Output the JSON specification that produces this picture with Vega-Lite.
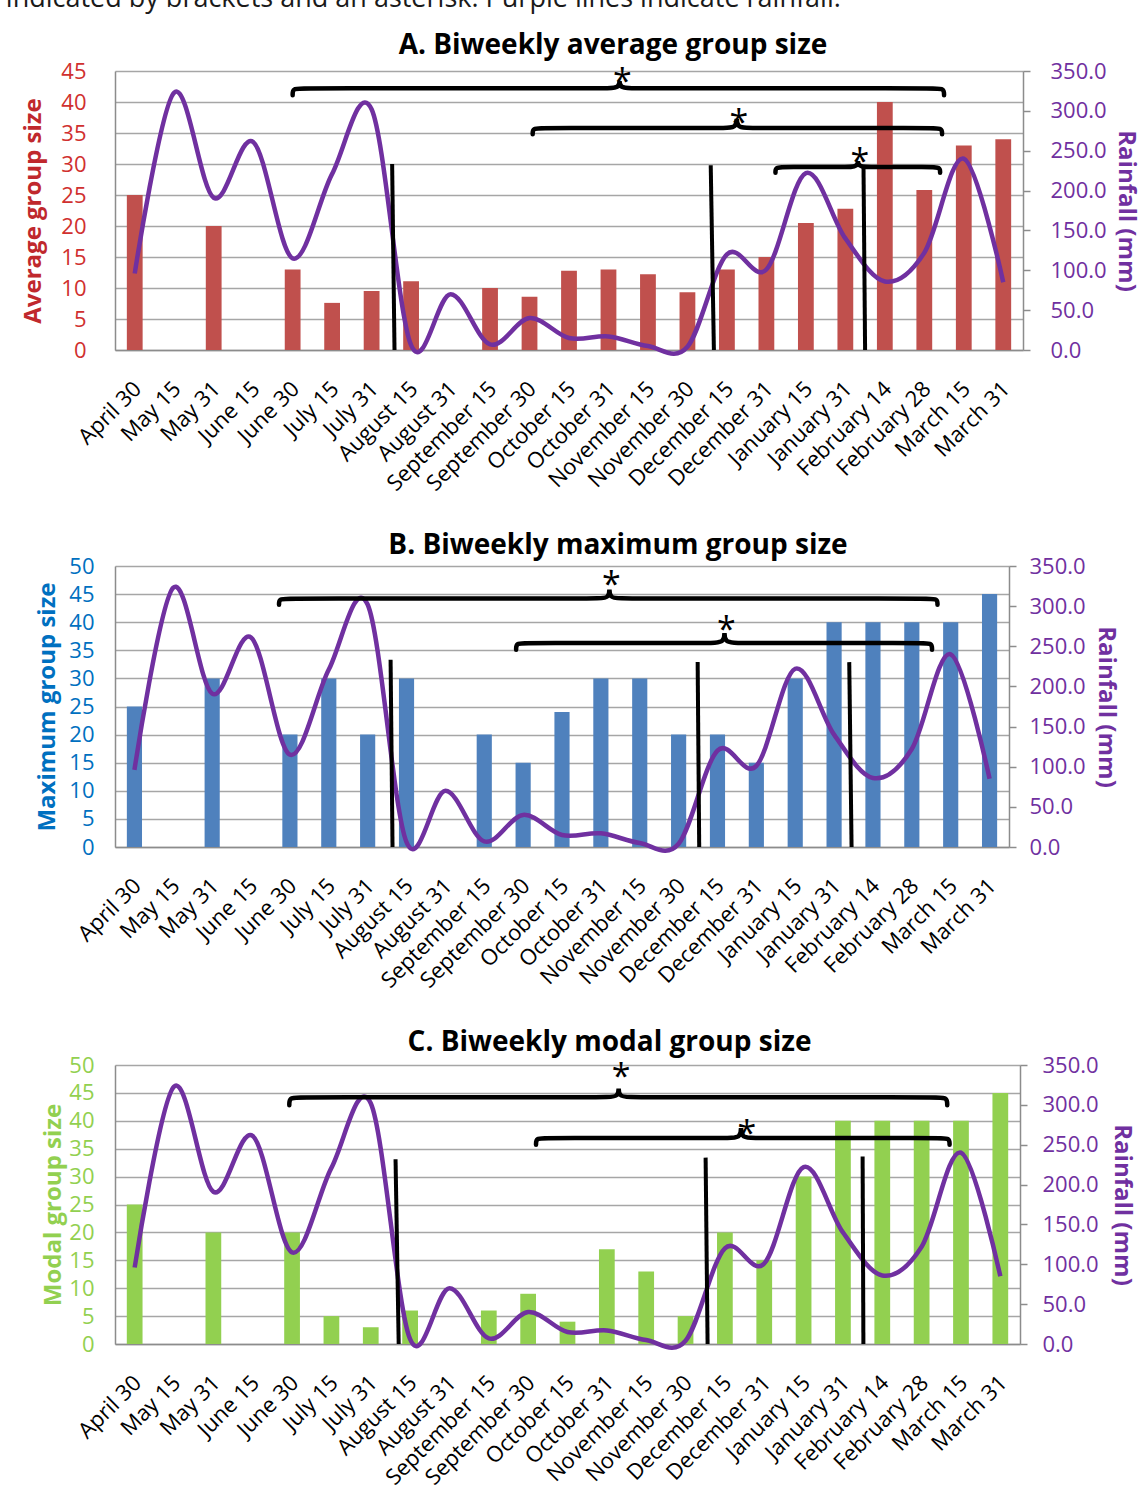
{
  "$schema": "https://vega.github.io/schema/vega-lite/v6.json",
  "padding": {"left": 5, "top": -15, "right": 12, "bottom": 0},
  "title": {
    "text": "indicated by brackets and an asterisk. Purple lines indicate rainfall.",
    "anchor": "start",
    "frame": "bounds",
    "fontSize": 27,
    "fontWeight": "normal",
    "color": "#1A1A1A",
    "dx": -16,
    "offset": 19
  },
  "datasets": {
    "periods": [
      {"i": 0, "period": "April 30", "avg": 25, "max": 25, "modal": 25, "rain": 96},
      {"i": 1, "period": "May 15", "avg": null, "max": null, "modal": null, "rain": 323},
      {"i": 2, "period": "May 31", "avg": 20, "max": 30, "modal": 20, "rain": 191},
      {"i": 3, "period": "June 15", "avg": null, "max": null, "modal": null, "rain": 261},
      {"i": 4, "period": "June 30", "avg": 13, "max": 20, "modal": 20, "rain": 115},
      {"i": 5, "period": "July 15", "avg": 7.6, "max": 30, "modal": 5, "rain": 221},
      {"i": 6, "period": "July 31", "avg": 9.5, "max": 20, "modal": 3, "rain": 302},
      {"i": 7, "period": "August 15", "avg": 11.1, "max": 30, "modal": 6, "rain": 6},
      {"i": 8, "period": "August 31", "avg": null, "max": null, "modal": null, "rain": 70},
      {"i": 9, "period": "September 15", "avg": 10, "max": 20, "modal": 6, "rain": 7},
      {"i": 10, "period": "September 30", "avg": 8.6, "max": 15, "modal": 9, "rain": 40},
      {"i": 11, "period": "October 15", "avg": 12.8, "max": 24, "modal": 4, "rain": 15},
      {"i": 12, "period": "October 31", "avg": 13, "max": 30, "modal": 17, "rain": 17},
      {"i": 13, "period": "November 15", "avg": 12.2, "max": 30, "modal": 13, "rain": 5},
      {"i": 14, "period": "November 30", "avg": 9.3, "max": 20, "modal": 5, "rain": 4},
      {"i": 15, "period": "December 15", "avg": 13, "max": 20, "modal": 20, "rain": 120},
      {"i": 16, "period": "December 31", "avg": 15, "max": 15, "modal": 15, "rain": 101},
      {"i": 17, "period": "January 15", "avg": 20.5, "max": 30, "modal": 30, "rain": 222},
      {"i": 18, "period": "January 31", "avg": 22.8, "max": 40, "modal": 40, "rain": 140},
      {"i": 19, "period": "February 14", "avg": 40, "max": 40, "modal": 40, "rain": 86},
      {"i": 20, "period": "February 28", "avg": 25.8, "max": 40, "modal": 40, "rain": 122},
      {"i": 21, "period": "March 15", "avg": 33, "max": 40, "modal": 40, "rain": 240},
      {"i": 22, "period": "March 31", "avg": 34, "max": 45, "modal": 45, "rain": 85}
    ],
    "divides": [
      {"panel": "A", "x": 6.52, "x2": 6.58, "y": 30},
      {"panel": "A", "x": 14.59, "x2": 14.67, "y": 29.8},
      {"panel": "A", "x": 18.46, "x2": 18.5, "y": 29.5},
      {"panel": "B", "x": 6.59, "x2": 6.64, "y": 33.3},
      {"panel": "B", "x": 14.49, "x2": 14.53, "y": 32.9},
      {"panel": "B", "x": 18.39, "x2": 18.45, "y": 32.9},
      {"panel": "C", "x": 6.63, "x2": 6.71, "y": 33.1},
      {"panel": "C", "x": 14.51, "x2": 14.56, "y": 33.4},
      {"panel": "C", "x": 18.5, "x2": 18.52, "y": 33.6}
    ],
    "braces": [
      {"panel": "A", "brace": 1, "k": 0, "x": 4.0, "y": 41.1},
      {"panel": "A", "brace": 1, "k": 1, "x": 4.0, "y": 42.2},
      {"panel": "A", "brace": 1, "k": 2, "x": 4.25, "y": 42.2},
      {"panel": "A", "brace": 1, "k": 3, "x": 11.98, "y": 42.2},
      {"panel": "A", "brace": 1, "k": 4, "x": 12.28, "y": 42.2},
      {"panel": "A", "brace": 1, "k": 5, "x": 12.28, "y": 44.0},
      {"panel": "A", "brace": 1, "k": 6, "x": 12.28, "y": 42.2},
      {"panel": "A", "brace": 1, "k": 7, "x": 12.58, "y": 42.2},
      {"panel": "A", "brace": 1, "k": 8, "x": 20.25, "y": 42.2},
      {"panel": "A", "brace": 1, "k": 9, "x": 20.5, "y": 42.2},
      {"panel": "A", "brace": 1, "k": 10, "x": 20.5, "y": 41.1},
      {"panel": "A", "brace": 2, "k": 0, "x": 10.08, "y": 34.8},
      {"panel": "A", "brace": 2, "k": 1, "x": 10.08, "y": 35.8},
      {"panel": "A", "brace": 2, "k": 2, "x": 10.33, "y": 35.8},
      {"panel": "A", "brace": 2, "k": 3, "x": 14.95, "y": 35.8},
      {"panel": "A", "brace": 2, "k": 4, "x": 15.25, "y": 35.8},
      {"panel": "A", "brace": 2, "k": 5, "x": 15.25, "y": 38.05},
      {"panel": "A", "brace": 2, "k": 6, "x": 15.25, "y": 35.8},
      {"panel": "A", "brace": 2, "k": 7, "x": 15.55, "y": 35.8},
      {"panel": "A", "brace": 2, "k": 8, "x": 20.2, "y": 35.8},
      {"panel": "A", "brace": 2, "k": 9, "x": 20.45, "y": 35.8},
      {"panel": "A", "brace": 2, "k": 10, "x": 20.45, "y": 34.8},
      {"panel": "A", "brace": 3, "k": 0, "x": 16.23, "y": 28.6},
      {"panel": "A", "brace": 3, "k": 1, "x": 16.23, "y": 29.5},
      {"panel": "A", "brace": 3, "k": 2, "x": 16.48, "y": 29.5},
      {"panel": "A", "brace": 3, "k": 3, "x": 18.02, "y": 29.5},
      {"panel": "A", "brace": 3, "k": 4, "x": 18.32, "y": 29.5},
      {"panel": "A", "brace": 3, "k": 5, "x": 18.32, "y": 31.0},
      {"panel": "A", "brace": 3, "k": 6, "x": 18.32, "y": 29.5},
      {"panel": "A", "brace": 3, "k": 7, "x": 18.62, "y": 29.5},
      {"panel": "A", "brace": 3, "k": 8, "x": 20.15, "y": 29.5},
      {"panel": "A", "brace": 3, "k": 9, "x": 20.4, "y": 29.5},
      {"panel": "A", "brace": 3, "k": 10, "x": 20.4, "y": 28.6},
      {"panel": "B", "brace": 1, "k": 0, "x": 3.72, "y": 43.1},
      {"panel": "B", "brace": 1, "k": 1, "x": 3.72, "y": 44.2},
      {"panel": "B", "brace": 1, "k": 2, "x": 3.97, "y": 44.2},
      {"panel": "B", "brace": 1, "k": 3, "x": 11.92, "y": 44.2},
      {"panel": "B", "brace": 1, "k": 4, "x": 12.22, "y": 44.2},
      {"panel": "B", "brace": 1, "k": 5, "x": 12.22, "y": 46.6},
      {"panel": "B", "brace": 1, "k": 6, "x": 12.22, "y": 44.2},
      {"panel": "B", "brace": 1, "k": 7, "x": 12.52, "y": 44.2},
      {"panel": "B", "brace": 1, "k": 8, "x": 20.41, "y": 44.2},
      {"panel": "B", "brace": 1, "k": 9, "x": 20.66, "y": 44.2},
      {"panel": "B", "brace": 1, "k": 10, "x": 20.66, "y": 43.1},
      {"panel": "B", "brace": 2, "k": 0, "x": 9.82, "y": 35.1},
      {"panel": "B", "brace": 2, "k": 1, "x": 9.82, "y": 36.3},
      {"panel": "B", "brace": 2, "k": 2, "x": 10.07, "y": 36.3},
      {"panel": "B", "brace": 2, "k": 3, "x": 14.88, "y": 36.3},
      {"panel": "B", "brace": 2, "k": 4, "x": 15.18, "y": 36.3},
      {"panel": "B", "brace": 2, "k": 5, "x": 15.18, "y": 39.0},
      {"panel": "B", "brace": 2, "k": 6, "x": 15.18, "y": 36.3},
      {"panel": "B", "brace": 2, "k": 7, "x": 15.48, "y": 36.3},
      {"panel": "B", "brace": 2, "k": 8, "x": 20.27, "y": 36.3},
      {"panel": "B", "brace": 2, "k": 9, "x": 20.52, "y": 36.3},
      {"panel": "B", "brace": 2, "k": 10, "x": 20.52, "y": 35.1},
      {"panel": "C", "brace": 1, "k": 0, "x": 3.93, "y": 42.8},
      {"panel": "C", "brace": 1, "k": 1, "x": 3.93, "y": 44.2},
      {"panel": "C", "brace": 1, "k": 2, "x": 4.18, "y": 44.2},
      {"panel": "C", "brace": 1, "k": 3, "x": 12.0, "y": 44.2},
      {"panel": "C", "brace": 1, "k": 4, "x": 12.3, "y": 44.2},
      {"panel": "C", "brace": 1, "k": 5, "x": 12.3, "y": 46.6},
      {"panel": "C", "brace": 1, "k": 6, "x": 12.3, "y": 44.2},
      {"panel": "C", "brace": 1, "k": 7, "x": 12.6, "y": 44.2},
      {"panel": "C", "brace": 1, "k": 8, "x": 20.4, "y": 44.2},
      {"panel": "C", "brace": 1, "k": 9, "x": 20.65, "y": 44.2},
      {"panel": "C", "brace": 1, "k": 10, "x": 20.65, "y": 42.8},
      {"panel": "C", "brace": 2, "k": 0, "x": 10.2, "y": 35.7},
      {"panel": "C", "brace": 2, "k": 1, "x": 10.2, "y": 36.9},
      {"panel": "C", "brace": 2, "k": 2, "x": 10.45, "y": 36.9},
      {"panel": "C", "brace": 2, "k": 3, "x": 15.11, "y": 36.9},
      {"panel": "C", "brace": 2, "k": 4, "x": 15.41, "y": 36.9},
      {"panel": "C", "brace": 2, "k": 5, "x": 15.41, "y": 39.6},
      {"panel": "C", "brace": 2, "k": 6, "x": 15.41, "y": 36.9},
      {"panel": "C", "brace": 2, "k": 7, "x": 15.71, "y": 36.9},
      {"panel": "C", "brace": 2, "k": 8, "x": 20.46, "y": 36.9},
      {"panel": "C", "brace": 2, "k": 9, "x": 20.71, "y": 36.9},
      {"panel": "C", "brace": 2, "k": 10, "x": 20.71, "y": 35.7}
    ],
    "stars": [
      {"panel": "A", "x": 12.35, "y": 44.7, "sig": "*"},
      {"panel": "A", "x": 15.3, "y": 38.1, "sig": "*"},
      {"panel": "A", "x": 18.37, "y": 31.8, "sig": "*"},
      {"panel": "B", "x": 12.27, "y": 48.2, "sig": "*"},
      {"panel": "B", "x": 15.23, "y": 40.2, "sig": "*"},
      {"panel": "C", "x": 12.36, "y": 49.4, "sig": "*"},
      {"panel": "C", "x": 15.56, "y": 39.3, "sig": "*"}
    ]
  },
  "spacing": 37,
  "vconcat": [
    {
      "width": 908,
      "height": 279,
      "title": {"text": "A. Biweekly average group size", "frame": "group", "dx": 44, "offset": 0},
      "resolve": {"scale": {"x": "independent", "y": "independent"}},
      "layer": [
        {
          "data": {"name": "periods"},
          "mark": {"type": "bar", "color": "#C0504D"},
          "encoding": {
            "x": {
              "field": "period", "type": "ordinal",
              "scale": {
                "domain": ["April 30", "May 15", "May 31", "June 15", "June 30", "July 15", "July 31", "August 15", "August 31", "September 15", "September 30", "October 15", "October 31", "November 15", "November 30", "December 15", "December 31", "January 15", "January 31", "February 14", "February 28", "March 15", "March 31"],
                "paddingInner": 0.6, "paddingOuter": 0.3
              },
              "axis": {
                "labelAngle": -45, "labelAlign": "right", "labelBaseline": "middle",
                "labelPadding": 35, "labelOffset": 3, "labelOverlap": false,
                "labelColor": "#000000", "labelFontSize": 22,
                "ticks": false, "tickSize": 0, "grid": false,
                "domainColor": "#8C8C8C", "domainWidth": 1.5, "title": null
              }
            },
            "y": {
              "field": "avg", "type": "quantitative",
              "scale": {"domain": [0, 45], "nice": false},
              "axis": {
                "orient": "left", "values": [0, 5, 10, 15, 20, 25, 30, 35, 40, 45],
                "grid": true, "gridColor": "#A6A6A6", "gridWidth": 1.5,
                "domainColor": "#8C8C8C", "domainWidth": 1.5, "ticks": false, "tickSize": 0,
                "labelColor": "#D0302F", "labelFontSize": 22, "labelPadding": 29,
                "title": "Average group size", "titleColor": "#C0282D", "titleFontSize": 24,
                "titleFontWeight": "bold", "titlePadding": 15
              }
            }
          }
        },
        {
          "data": {"name": "periods"},
          "mark": {"type": "line", "interpolate": "cardinal", "color": "#7030A0", "strokeWidth": 4.5},
          "encoding": {
            "x": {"field": "i", "type": "quantitative", "scale": {"domain": [-0.5, 22.5], "nice": false, "zero": false}, "axis": null},
            "y": {
              "field": "rain", "type": "quantitative",
              "scale": {"domain": [0, 350], "nice": false},
              "axis": {
                "orient": "right", "values": [0, 50, 100, 150, 200, 250, 300, 350], "format": ".1f",
                "grid": false, "domainColor": "#8C8C8C", "domainWidth": 1.5,
                "ticks": true, "tickColor": "#8C8C8C", "tickWidth": 1.5, "tickSize": 7,
                "labelColor": "#7030A0", "labelFontSize": 22, "labelPadding": 20,
                "title": "Rainfall (mm)", "titleColor": "#7030A0", "titleFontSize": 24,
                "titleFontWeight": "bold", "titlePadding": 7
              }
            }
          }
        },
        {
          "layer": [
            {
              "data": {"name": "divides"},
              "transform": [{"filter": "datum.panel === 'A'"}],
              "mark": {"type": "rule", "color": "#000000", "strokeWidth": 4},
              "encoding": {
                "x": {"field": "x", "type": "quantitative", "scale": {"domain": [-0.5, 22.5], "nice": false, "zero": false}, "axis": null},
                "x2": {"field": "x2"},
                "y": {"field": "y", "type": "quantitative", "scale": {"domain": [0, 45], "nice": false}, "axis": null},
                "y2": {"datum": 0}
              }
            },
            {
              "data": {"name": "braces"},
              "transform": [{"filter": "datum.panel === 'A'"}],
              "mark": {"type": "line", "interpolate": "basis", "color": "#000000", "strokeWidth": 4.5, "strokeCap": "round"},
              "encoding": {
                "x": {"field": "x", "type": "quantitative", "scale": {"domain": [-0.5, 22.5], "nice": false, "zero": false}, "axis": null},
                "y": {"field": "y", "type": "quantitative", "scale": {"domain": [0, 45], "nice": false}, "axis": null},
                "detail": {"field": "brace"},
                "order": {"field": "k"}
              }
            },
            {
              "data": {"name": "stars"},
              "transform": [{"filter": "datum.panel === 'A'"}],
              "mark": {"type": "text", "fontSize": 34, "baseline": "alphabetic", "dy": 20, "color": "#000000"},
              "encoding": {
                "x": {"field": "x", "type": "quantitative", "scale": {"domain": [-0.5, 22.5], "nice": false, "zero": false}, "axis": null},
                "y": {"field": "y", "type": "quantitative", "scale": {"domain": [0, 45], "nice": false}, "axis": null},
                "text": {"field": "sig"}
              }
            }
          ]
        }
      ]
    },
    {
      "width": 894,
      "height": 281,
      "title": {"text": "B. Biweekly maximum group size", "frame": "group", "dx": 56, "offset": -5},
      "resolve": {"scale": {"x": "independent", "y": "independent"}},
      "layer": [
        {
          "data": {"name": "periods"},
          "mark": {"type": "bar", "color": "#4F81BD"},
          "encoding": {
            "x": {
              "field": "period", "type": "ordinal",
              "scale": {
                "domain": ["April 30", "May 15", "May 31", "June 15", "June 30", "July 15", "July 31", "August 15", "August 31", "September 15", "September 30", "October 15", "October 31", "November 15", "November 30", "December 15", "December 31", "January 15", "January 31", "February 14", "February 28", "March 15", "March 31"],
                "paddingInner": 0.61, "paddingOuter": 0.305
              },
              "axis": {
                "labelAngle": -45, "labelAlign": "right", "labelBaseline": "middle",
                "labelPadding": 35, "labelOffset": 3, "labelOverlap": false,
                "labelColor": "#000000", "labelFontSize": 22,
                "ticks": false, "tickSize": 0, "grid": false,
                "domainColor": "#8C8C8C", "domainWidth": 1.5, "title": null
              }
            },
            "y": {
              "field": "max", "type": "quantitative",
              "scale": {"domain": [0, 50], "nice": false},
              "axis": {
                "orient": "left", "values": [0, 5, 10, 15, 20, 25, 30, 35, 40, 45, 50],
                "grid": true, "gridColor": "#A6A6A6", "gridWidth": 1.5,
                "domainColor": "#8C8C8C", "domainWidth": 1.5, "ticks": false, "tickSize": 0,
                "labelColor": "#0070C0", "labelFontSize": 22, "labelPadding": 21,
                "title": "Maximum group size", "titleColor": "#0070C0", "titleFontSize": 24,
                "titleFontWeight": "bold", "titlePadding": 9
              }
            }
          }
        },
        {
          "data": {"name": "periods"},
          "mark": {"type": "line", "interpolate": "cardinal", "color": "#7030A0", "strokeWidth": 4.5},
          "encoding": {
            "x": {"field": "i", "type": "quantitative", "scale": {"domain": [-0.5, 22.5], "nice": false, "zero": false}, "axis": null},
            "y": {
              "field": "rain", "type": "quantitative",
              "scale": {"domain": [0, 350], "nice": false},
              "axis": {
                "orient": "right", "values": [0, 50, 100, 150, 200, 250, 300, 350], "format": ".1f",
                "grid": false, "domainColor": "#8C8C8C", "domainWidth": 1.5,
                "ticks": true, "tickColor": "#8C8C8C", "tickWidth": 1.5, "tickSize": 7,
                "labelColor": "#7030A0", "labelFontSize": 22, "labelPadding": 13,
                "title": "Rainfall (mm)", "titleColor": "#7030A0", "titleFontSize": 24,
                "titleFontWeight": "bold", "titlePadding": 8
              }
            }
          }
        },
        {
          "layer": [
            {
              "data": {"name": "divides"},
              "transform": [{"filter": "datum.panel === 'B'"}],
              "mark": {"type": "rule", "color": "#000000", "strokeWidth": 4},
              "encoding": {
                "x": {"field": "x", "type": "quantitative", "scale": {"domain": [-0.5, 22.5], "nice": false, "zero": false}, "axis": null},
                "x2": {"field": "x2"},
                "y": {"field": "y", "type": "quantitative", "scale": {"domain": [0, 50], "nice": false}, "axis": null},
                "y2": {"datum": 0}
              }
            },
            {
              "data": {"name": "braces"},
              "transform": [{"filter": "datum.panel === 'B'"}],
              "mark": {"type": "line", "interpolate": "basis", "color": "#000000", "strokeWidth": 4.5, "strokeCap": "round"},
              "encoding": {
                "x": {"field": "x", "type": "quantitative", "scale": {"domain": [-0.5, 22.5], "nice": false, "zero": false}, "axis": null},
                "y": {"field": "y", "type": "quantitative", "scale": {"domain": [0, 50], "nice": false}, "axis": null},
                "detail": {"field": "brace"},
                "order": {"field": "k"}
              }
            },
            {
              "data": {"name": "stars"},
              "transform": [{"filter": "datum.panel === 'B'"}],
              "mark": {"type": "text", "fontSize": 34, "baseline": "alphabetic", "dy": 20, "color": "#000000"},
              "encoding": {
                "x": {"field": "x", "type": "quantitative", "scale": {"domain": [-0.5, 22.5], "nice": false, "zero": false}, "axis": null},
                "y": {"field": "y", "type": "quantitative", "scale": {"domain": [0, 50], "nice": false}, "axis": null},
                "text": {"field": "sig"}
              }
            }
          ]
        }
      ]
    },
    {
      "width": 905,
      "height": 279,
      "title": {"text": "C. Biweekly modal group size", "frame": "group", "dx": 42, "offset": -3},
      "resolve": {"scale": {"x": "independent", "y": "independent"}},
      "layer": [
        {
          "data": {"name": "periods"},
          "mark": {"type": "bar", "color": "#92D050"},
          "encoding": {
            "x": {
              "field": "period", "type": "ordinal",
              "scale": {
                "domain": ["April 30", "May 15", "May 31", "June 15", "June 30", "July 15", "July 31", "August 15", "August 31", "September 15", "September 30", "October 15", "October 31", "November 15", "November 30", "December 15", "December 31", "January 15", "January 31", "February 14", "February 28", "March 15", "March 31"],
                "paddingInner": 0.6, "paddingOuter": 0.3
              },
              "axis": {
                "labelAngle": -45, "labelAlign": "right", "labelBaseline": "middle",
                "labelPadding": 35, "labelOffset": 3, "labelOverlap": false,
                "labelColor": "#000000", "labelFontSize": 22,
                "ticks": false, "tickSize": 0, "grid": false,
                "domainColor": "#8C8C8C", "domainWidth": 1.5, "title": null
              }
            },
            "y": {
              "field": "modal", "type": "quantitative",
              "scale": {"domain": [0, 50], "nice": false},
              "axis": {
                "orient": "left", "values": [0, 5, 10, 15, 20, 25, 30, 35, 40, 45, 50],
                "grid": true, "gridColor": "#A6A6A6", "gridWidth": 1.5,
                "domainColor": "#8C8C8C", "domainWidth": 1.5, "ticks": false, "tickSize": 0,
                "labelColor": "#92D050", "labelFontSize": 22, "labelPadding": 21,
                "title": "Modal group size", "titleColor": "#92D050", "titleFontSize": 24,
                "titleFontWeight": "bold", "titlePadding": 3
              }
            }
          }
        },
        {
          "data": {"name": "periods"},
          "mark": {"type": "line", "interpolate": "cardinal", "color": "#7030A0", "strokeWidth": 4.5},
          "encoding": {
            "x": {"field": "i", "type": "quantitative", "scale": {"domain": [-0.5, 22.5], "nice": false, "zero": false}, "axis": null},
            "y": {
              "field": "rain", "type": "quantitative",
              "scale": {"domain": [0, 350], "nice": false},
              "axis": {
                "orient": "right", "values": [0, 50, 100, 150, 200, 250, 300, 350], "format": ".1f",
                "grid": false, "domainColor": "#8C8C8C", "domainWidth": 1.5,
                "ticks": true, "tickColor": "#8C8C8C", "tickWidth": 1.5, "tickSize": 7,
                "labelColor": "#7030A0", "labelFontSize": 22, "labelPadding": 15,
                "title": "Rainfall (mm)", "titleColor": "#7030A0", "titleFontSize": 24,
                "titleFontWeight": "bold", "titlePadding": 11
              }
            }
          }
        },
        {
          "layer": [
            {
              "data": {"name": "divides"},
              "transform": [{"filter": "datum.panel === 'C'"}],
              "mark": {"type": "rule", "color": "#000000", "strokeWidth": 4},
              "encoding": {
                "x": {"field": "x", "type": "quantitative", "scale": {"domain": [-0.5, 22.5], "nice": false, "zero": false}, "axis": null},
                "x2": {"field": "x2"},
                "y": {"field": "y", "type": "quantitative", "scale": {"domain": [0, 50], "nice": false}, "axis": null},
                "y2": {"datum": 0}
              }
            },
            {
              "data": {"name": "braces"},
              "transform": [{"filter": "datum.panel === 'C'"}],
              "mark": {"type": "line", "interpolate": "basis", "color": "#000000", "strokeWidth": 4.5, "strokeCap": "round"},
              "encoding": {
                "x": {"field": "x", "type": "quantitative", "scale": {"domain": [-0.5, 22.5], "nice": false, "zero": false}, "axis": null},
                "y": {"field": "y", "type": "quantitative", "scale": {"domain": [0, 50], "nice": false}, "axis": null},
                "detail": {"field": "brace"},
                "order": {"field": "k"}
              }
            },
            {
              "data": {"name": "stars"},
              "transform": [{"filter": "datum.panel === 'C'"}],
              "mark": {"type": "text", "fontSize": 34, "baseline": "alphabetic", "dy": 20, "color": "#000000"},
              "encoding": {
                "x": {"field": "x", "type": "quantitative", "scale": {"domain": [-0.5, 22.5], "nice": false, "zero": false}, "axis": null},
                "y": {"field": "y", "type": "quantitative", "scale": {"domain": [0, 50], "nice": false}, "axis": null},
                "text": {"field": "sig"}
              }
            }
          ]
        }
      ]
    }
  ],
  "config": {
    "font": "Open Sans",
    "view": {"stroke": null},
    "title": {"font": "Open Sans", "fontSize": 28, "fontWeight": "bold", "color": "#000000", "anchor": "middle"},
    "axis": {"labelFont": "Open Sans", "titleFont": "Open Sans"}
  }
}
